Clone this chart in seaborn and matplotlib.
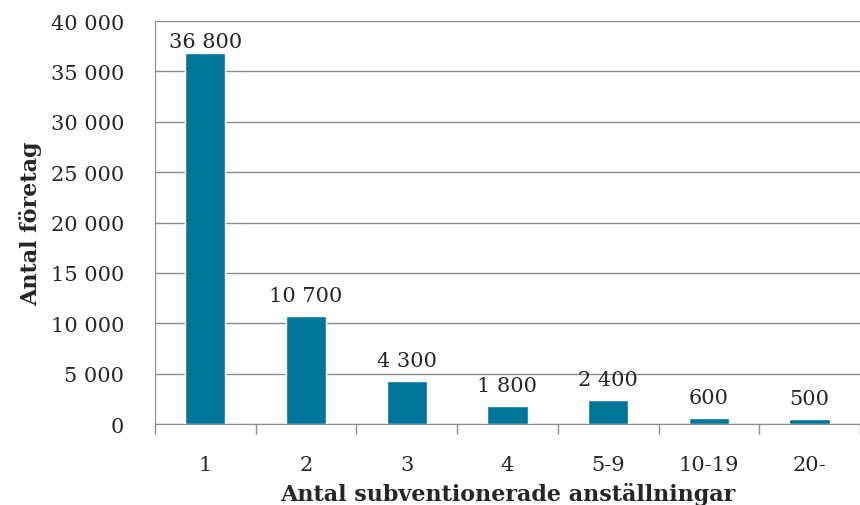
import pandas as pd
import seaborn as sns
import matplotlib.pyplot as plt
from matplotlib.ticker import FuncFormatter, FixedLocator

# data
kategorier = ['1', '2', '3', '4', '5-9', '10-19', '20-']
antal = [36800, 10700, 4300, 1800, 2400, 600, 500]

df = pd.DataFrame({'kat': kategorier, 'antal': antal})

def mellanslag(v, pos=None):
    return f"{int(v):,}".replace(',', ' ')

sns.set_style('white')
plt.rcParams['font.family'] = ['DejaVu Serif']

fig = plt.figure(figsize=(8.6, 5.06), dpi=100)
ax = fig.add_axes([0.180, 0.160, 0.820, 0.7965])

sns.barplot(data=df, x='kat', y='antal', color='#00759A', width=0.4,
            saturation=1, ax=ax, zorder=3)

ax.set_ylim(0, 40000)
ax.set_yticks(range(0, 40001, 5000))
ax.yaxis.set_major_formatter(FuncFormatter(mellanslag))
ax.set_xlim(-0.5, len(kategorier) - 0.5)
ax.grid(axis='y', color='#8c8c8c', linewidth=1, zorder=0)

for i, v in enumerate(antal):
    ax.text(i, min(v + 1100, 37000), mellanslag(v), ha='center', va='bottom', fontsize=15)

# tick marks between categories
ax.xaxis.set_minor_locator(FixedLocator([i + 0.5 for i in range(-1, len(kategorier))]))
ax.tick_params(axis='x', which='minor', bottom=True, length=7, color='#8c8c8c', width=1)
ax.tick_params(axis='x', which='major', length=0, labelsize=15, pad=22)
ax.tick_params(axis='y', length=0, labelsize=15, pad=22)

for s in ['top', 'right']:
    ax.spines[s].set_visible(False)
ax.spines['left'].set_color('#8c8c8c')
ax.spines['bottom'].set_color('#8c8c8c')

ax.set_xlabel('Antal subventionerade anställningar', fontsize=16, fontweight='bold', labelpad=6)
ax.set_ylabel('Antal företag', fontsize=16, fontweight='bold', labelpad=6)

fig.savefig('out.png', dpi=100)
